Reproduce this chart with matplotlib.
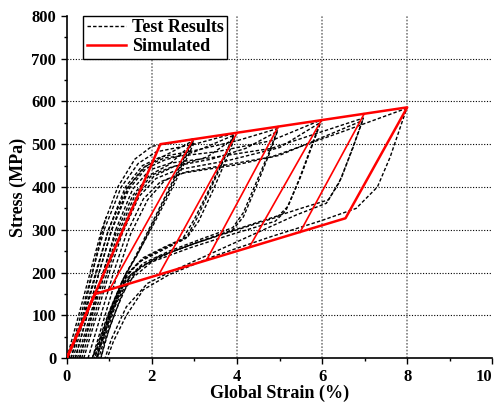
import matplotlib
matplotlib.use("Agg")
import matplotlib.pyplot as plt
from matplotlib.ticker import MultipleLocator, FixedLocator, FixedFormatter
from matplotlib.transforms import blended_transform_factory

plt.rcParams["font.family"] = ["Liberation Serif", "DejaVu Serif"]
plt.rcParams["font.weight"] = "bold"

# Test results (strain %, stress MPa)
test_3a = [(0.0, 0), (0.28, 100), (0.55, 200), (0.82, 300), (1.2, 400), (1.6, 465), (2.0, 495),
           (2.5, 503), (2.97, 512), (2.72, 460), (2.3, 375), (1.9, 295), (1.6, 235), (1.3, 180),
           (1.0, 110), (0.75, 40), (0.6, 0)]
test_3b = [(0.1, 0), (0.4, 100), (0.68, 200), (0.98, 300), (1.4, 395), (1.8, 445), (2.2, 468),
           (2.97, 508), (2.75, 460), (2.35, 380), (1.95, 300), (1.65, 240), (1.35, 190), (1.05, 120),
           (0.8, 50), (0.65, 0)]
test_3c = [(0.25, 0), (0.55, 100), (0.85, 200), (1.15, 290), (1.55, 380), (1.95, 428), (2.4, 452),
           (3.0, 505), (2.8, 462), (2.4, 382), (2.0, 305), (1.7, 250), (1.4, 200), (1.1, 130),
           (0.85, 55), (0.7, 0)]
test_4a = [(0.05, 0), (0.33, 100), (0.6, 200), (0.88, 300), (1.28, 400), (1.68, 455), (2.1, 482),
           (3.0, 500), (3.93, 525), (3.7, 470), (3.35, 395), (3.0, 325), (2.7, 275), (2.2, 250),
           (1.7, 225), (1.35, 185), (1.05, 115), (0.8, 45), (0.6, 0)]
test_4b = [(0.2, 0), (0.48, 100), (0.76, 200), (1.06, 300), (1.46, 395), (1.86, 443), (2.3, 463),
           (3.0, 482), (3.93, 521), (3.72, 470), (3.4, 400), (3.05, 325), (2.8, 280), (2.3, 258),
           (1.8, 232), (1.4, 195), (1.1, 125), (0.85, 50), (0.65, 0)]
test_4c = [(0.35, 0), (0.65, 100), (0.95, 200), (1.25, 290), (1.65, 380), (2.05, 425), (2.5, 447),
           (3.3, 470), (3.95, 515), (3.75, 465), (3.45, 395), (3.1, 320), (2.85, 285), (2.3, 260),
           (1.8, 235), (1.45, 200), (1.15, 135), (0.9, 60), (0.7, 0)]
test_5a = [(0.15, 0), (0.42, 100), (0.7, 200), (0.98, 300), (1.38, 400), (1.78, 450), (2.2, 470),
           (3.0, 485), (4.0, 508), (4.97, 537), (4.75, 480), (4.45, 410), (4.15, 340), (3.9, 305),
           (3.2, 280), (2.4, 250), (1.8, 222), (1.4, 185), (1.1, 120), (0.85, 45), (0.7, 0)]
test_5b = [(0.3, 0), (0.6, 100), (0.9, 200), (1.2, 290), (1.6, 380), (2.0, 428), (2.5, 448),
           (3.4, 465), (4.2, 490), (4.95, 530), (4.75, 475), (4.45, 400), (4.15, 330), (3.9, 300),
           (3.1, 272), (2.3, 242), (1.75, 215), (1.35, 175), (1.05, 105), (0.8, 35), (0.72, 0)]
test_6a = [(0.2, 0), (0.48, 100), (0.76, 200), (1.05, 300), (1.45, 400), (1.85, 448), (2.3, 468),
           (3.5, 482), (4.8, 508), (5.99, 557), (5.78, 500), (5.5, 425), (5.2, 355), (4.95, 330),
           (4.0, 300), (3.0, 268), (2.1, 235), (1.5, 195), (1.15, 125), (0.9, 50), (0.75, 0)]
test_6b = [(0.4, 0), (0.7, 100), (1.0, 200), (1.3, 290), (1.7, 378), (2.1, 420), (2.6, 440),
           (3.8, 462), (5.0, 492), (5.95, 550), (5.75, 495), (5.45, 415), (5.15, 345), (4.9, 320),
           (3.9, 290), (2.9, 258), (2.0, 225), (1.45, 180), (1.15, 110), (0.9, 40), (0.8, 0)]
test_7a = [(0.3, 0), (0.58, 100), (0.86, 200), (1.15, 300), (1.55, 395), (1.95, 440), (2.45, 456),
           (3.5, 470), (4.8, 490), (6.97, 561), (6.75, 500), (6.45, 420), (6.15, 370), (5.5, 350),
           (4.5, 318), (3.5, 285), (2.5, 250), (1.7, 212), (1.3, 150), (1.0, 70), (0.8, 0)]
test_7b = [(0.5, 0), (0.8, 100), (1.1, 200), (1.4, 290), (1.8, 372), (2.2, 412), (2.7, 432),
           (4.0, 452), (5.0, 474), (6.95, 555), (6.72, 490), (6.4, 410), (6.1, 362), (5.4, 335),
           (4.4, 290), (3.4, 245), (2.4, 200), (1.9, 175), (1.4, 120), (1.05, 45), (0.9, 0)]
test_8 = [(0.6, 0), (0.9, 100), (1.2, 200), (1.5, 290), (1.9, 370), (2.3, 415), (2.8, 435),
          (4.8, 470), (6.5, 530), (7.99, 584), (7.6, 470), (7.3, 400), (6.8, 350), (6.0, 322),
          (4.8, 284), (3.5, 240), (2.4, 195), (1.8, 160), (1.4, 100), (1.1, 40), (0.95, 0)]
test_short = [(0.1, 0), (0.4, 110), (0.65, 220), (0.92, 330)]

tests = [test_3a, test_3b, test_3c, test_4a, test_4b, test_4c, test_5a, test_5b,
         test_6a, test_6b, test_7a, test_7b, test_8, test_short]

# Simulated model: envelope and unloading legs
sim_env_x = [0.0, 2.2, 8.0, 6.55, 0.66, 0.0]
sim_env_y = [0, 500, 586, 327, 150, 0]
leg_top_x = [2.97, 4.0, 4.97, 5.99, 6.99]
leg_top_y = [511, 526, 541, 557, 571]
leg_bot_x = [1.02, 2.19, 3.29, 4.30, 5.48]
leg_bot_y = [163, 200, 230, 261, 294]

x_ticks = [0, 2, 4, 6, 8, 10]
x_ticklabels = ["0", "2", "4", "6", "8", "10"]

fig = plt.figure(figsize=(4.98, 4.03), dpi=100)
ax = fig.add_axes([0.134, 0.111, 0.8546, 0.850])

for i, c in enumerate(tests):
    xs = [p[0] for p in c]
    ys = [p[1] for p in c]
    ax.plot(xs, ys, color="black", lw=1.0, ls=(0, (2.5, 1.5)),
            label="Test Results" if i == 0 else None, zorder=3)

ax.plot(sim_env_x, sim_env_y, color="red", lw=1.8, label="Simulated", zorder=4)
for x0, y0, x1, y1 in zip(leg_top_x, leg_top_y, leg_bot_x, leg_bot_y):
    ax.plot([x0, x1], [y0, y1], color="red", lw=1.2, zorder=4)

# dotted grid, not at the limits
for yv in range(100, 800, 100):
    ax.axhline(yv, color="black", lw=0.8, ls=(0, (1, 1.5)), zorder=1)
for xv in range(2, 10, 2):
    ax.axvline(xv, color="gray", lw=1.2, ls=(0, (1, 1)), zorder=1)

ax.set_xlim(0, 10)
ax.set_ylim(0, 800)
ax.xaxis.set_major_locator(FixedLocator(x_ticks))
# last label drawn separately so it stays inside the figure
ax.xaxis.set_major_formatter(FixedFormatter(x_ticklabels[:-1] + [""]))
ax.xaxis.set_minor_locator(MultipleLocator(1))
ax.yaxis.set_major_locator(MultipleLocator(100))
ax.yaxis.set_minor_locator(MultipleLocator(50))
ax.tick_params(which="major", direction="out", length=4, width=1, labelsize=12)
ax.tick_params(which="minor", direction="out", length=2.5, width=1)
ax.spines["top"].set_visible(False)
ax.spines["right"].set_visible(False)
ax.spines["left"].set_linewidth(1.2)
ax.spines["bottom"].set_linewidth(1.2)
for lab in ax.get_xticklabels() + ax.get_yticklabels():
    lab.set_fontweight("bold")

trans = blended_transform_factory(ax.transData, ax.transAxes)
ax.text(x_ticks[-1], -0.031, x_ticklabels[-1], transform=trans, ha="right", va="top",
        fontsize=12, fontweight="bold", clip_on=False)

ax.set_xlabel("Global Strain (%)", fontsize=13, fontweight="bold", labelpad=0)
ax.set_ylabel("Stress (MPa)", fontsize=13, fontweight="bold", labelpad=3)

leg = ax.legend(loc="upper left", bbox_to_anchor=(0.038, 1.0), borderaxespad=0,
                fancybox=False, edgecolor="black", framealpha=1, handlelength=2.2,
                prop={"size": 13, "weight": "bold"}, borderpad=0.2, labelspacing=0.1,
                handletextpad=0.3)
leg.get_frame().set_linewidth(1.0)

fig.savefig("out.png", dpi=100)
